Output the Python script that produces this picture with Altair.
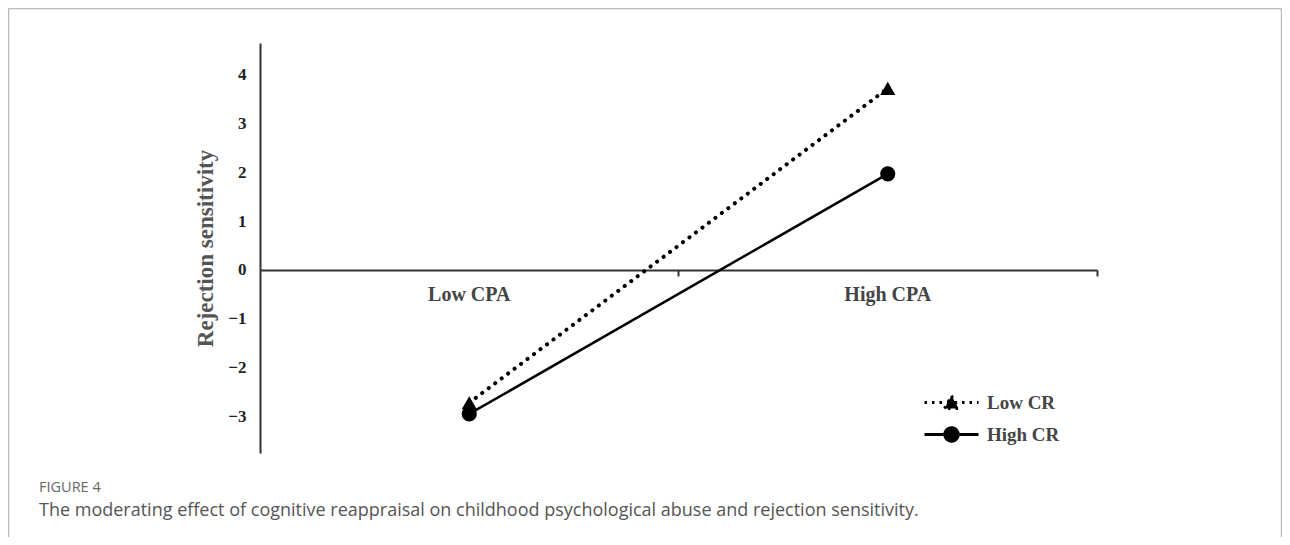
import altair as alt
import pandas as pd

# ---- data ----
categories = ["Low CPA", "High CPA"]
series_names = ["Low CR", "High CR"]
low_cr = [-2.72, 3.72]
high_cr = [-2.95, 1.97]
y_ticks = [-3, -2, -1, 0, 1, 2, 3, 4]

rows = []
for s, vals in zip(series_names, [low_cr, high_cr]):
    for c, v in zip(categories, vals):
        rows.append({"cpa": c, "series": s, "rs": v})
df = pd.DataFrame(rows)

# ---- layout ----
W, H = 837, 410
Y_DOM = [-3.75, 4.65]
PAD_L, PAD_T = 252, 35
TOTAL_W, TOTAL_H = 1274, 529
zero_from_top = H * (Y_DOM[1] - 0) / (Y_DOM[1] - Y_DOM[0])
x_axis_offset = -(H - zero_from_top)

SERIF = "Liberation Serif"
SANS = "Open Sans"

x_enc = alt.X(
    "cpa:N",
    sort=categories,
    scale=alt.Scale(type="band", paddingInner=0, paddingOuter=0),
    axis=alt.Axis(
        title=None,
        orient="bottom",
        offset=x_axis_offset,
        bandPosition=1,
        labelAngle=0,
        labelFont=SERIF,
        labelFontWeight="bold",
        labelFontSize=20,
        labelColor="#444",
        labelPadding=9,
        tickSize=6,
        tickColor="#333",
        tickWidth=2,
        domainColor="#333",
        domainWidth=2,
        grid=False,
    ),
)
y_enc = alt.Y(
    "rs:Q",
    scale=alt.Scale(domain=Y_DOM, nice=False, zero=False),
    axis=alt.Axis(
        title="Rejection sensitivity",
        titleFont=SERIF,
        titleFontWeight="bold",
        titleFontSize=23,
        titleColor="#555",
        titlePadding=10,
        values=y_ticks,
        format="d",
        ticks=False,
        labelFont=SERIF,
        labelFontWeight="bold",
        labelFontSize=17,
        labelColor="#222",
        labelPadding=14,
        domainColor="#333",
        domainWidth=2,
        grid=False,
    ),
)

base = alt.Chart(df)

line_low = base.transform_filter(alt.datum.series == "Low CR").mark_line(
    color="black", strokeWidth=4, strokeDash=[0.1, 8], strokeCap="round"
).encode(x=x_enc, y=y_enc)
line_high = base.transform_filter(alt.datum.series == "High CR").mark_line(
    color="black", strokeWidth=2.5
).encode(x=x_enc, y=y_enc)
pt_low = base.transform_filter(alt.datum.series == "Low CR").mark_point(
    shape="triangle-up", filled=True, color="black", size=230, opacity=1
).encode(x=x_enc, y=y_enc)
pt_high = base.transform_filter(alt.datum.series == "High CR").mark_point(
    shape="circle", filled=True, color="black", size=230, opacity=1
).encode(x=x_enc, y=y_enc)

# legend-only layer (no rows drawn); each symbol is a line with its marker
tri_path = "M-2.7,0L2.7,0M-0.7,0.6L0,-0.7L0.7,0.6Z"
circ_path = "M-2.7,0L2.7,0M-0.68,0A0.68,0.68,0,1,0,0.68,0A0.68,0.68,0,1,0,-0.68,0Z"
leg = dict(
    orient="none",
    legendX=680,
    legendY=348,
    title=None,
    labelFont=SERIF,
    labelFontWeight="bold",
    labelFontSize=19,
    labelColor="#444",
    labelOffset=24,
    symbolSize=400,
    symbolStrokeWidth=2.8,
    symbolOpacity=1,
    rowPadding=7,
)
legend_layer = base.transform_filter("false").mark_point(
    filled=False, fill="black", stroke="black", strokeWidth=2.8, fillOpacity=1, strokeOpacity=1
).encode(
    x=x_enc,
    y=y_enc,
    shape=alt.Shape(
        "series:N",
        scale=alt.Scale(domain=series_names, range=[tri_path, circ_path]),
        legend=alt.Legend(**leg),
    ),
    strokeDash=alt.StrokeDash(
        "series:N",
        scale=alt.Scale(domain=series_names, range=[[2.5, 5], [1, 0]]),
        legend=alt.Legend(**leg),
    ),
)

# light grey figure frame (decoration only)
frame_df = pd.DataFrame({"k": [0]})
frame = alt.Chart(frame_df)
frame_top = frame.mark_rule(color="#bbb", strokeWidth=1.5).encode(
    x=alt.value(-PAD_L + 0.5), x2=alt.value(TOTAL_W - PAD_L - 0.5), y=alt.value(-PAD_T + 0.5)
)
frame_left = frame.mark_rule(color="#bbb", strokeWidth=1.5).encode(
    x=alt.value(-PAD_L + 0.5), y=alt.value(-PAD_T + 0.5), y2=alt.value(TOTAL_H - PAD_T)
)
frame_right = frame.mark_rule(color="#bbb", strokeWidth=1.5).encode(
    x=alt.value(TOTAL_W - PAD_L - 0.5), y=alt.value(-PAD_T + 0.5), y2=alt.value(TOTAL_H - PAD_T)
)

# caption placement: title is laid out below the full bounds (frame bottom)
caption_top_page = 480
frame_bottom_page = 8 + TOTAL_H
title_offset = caption_top_page - frame_bottom_page

chart = alt.layer(
    frame_top, frame_left, frame_right,
    line_low, line_high, pt_low, pt_high, legend_layer
).properties(
    width=W,
    height=H,
    background="white",
    autosize=alt.AutoSizeParams(type="none"),
    padding={"left": PAD_L, "top": PAD_T, "right": TOTAL_W - PAD_L - W, "bottom": TOTAL_H - PAD_T - H},
    title=alt.Title(
        "FIGURE 4",
        subtitle="The moderating effect of cognitive reappraisal on childhood psychological abuse and rejection sensitivity.",
        orient="bottom",
        anchor="start",
        frame="group",
        dx=-221,
        offset=title_offset,
        font=SANS,
        fontSize=14.5,
        fontWeight="normal",
        color="#666",
        subtitleFont=SANS,
        subtitleFontSize=18,
        subtitleColor="#555",
        subtitlePadding=7,
    ),
).configure_view(stroke=None, strokeWidth=0)

chart.save("out.html", embed_options={"renderer": "svg", "actions": False})
